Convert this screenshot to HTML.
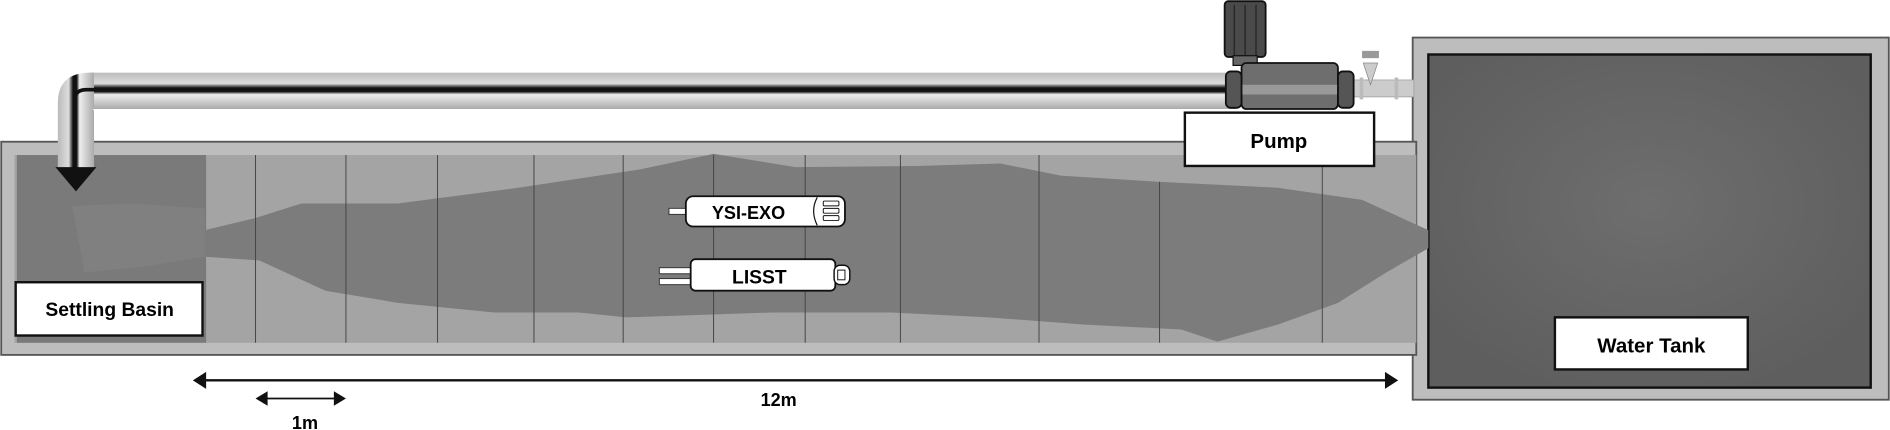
<!DOCTYPE html>
<html><head><meta charset="utf-8"><style>
html,body{margin:0;padding:0;background:#fff;}
svg{display:block;}
text{font-family:"Liberation Sans",sans-serif;font-weight:bold;}
</style></head><body>
<svg width="1890" height="430" viewBox="0 0 1568 355" preserveAspectRatio="none" xmlns="http://www.w3.org/2000/svg">
<defs>
<linearGradient id="pipe" x1="0" y1="0" x2="0" y2="1">
<stop offset="0" stop-color="#bbb"/><stop offset="0.3" stop-color="#ddd"/><stop offset="0.42" stop-color="#111"/><stop offset="0.52" stop-color="#111"/><stop offset="0.6" stop-color="#eee"/><stop offset="1" stop-color="#aaa"/>
</linearGradient>
<linearGradient id="pipev" x1="0" y1="0" x2="1" y2="0">
<stop offset="0" stop-color="#bbb"/><stop offset="0.3" stop-color="#ddd"/><stop offset="0.42" stop-color="#111"/><stop offset="0.52" stop-color="#111"/><stop offset="0.6" stop-color="#eee"/><stop offset="1" stop-color="#aaa"/>
</linearGradient>
<radialGradient id="tank" cx="0.5" cy="0.45" r="0.6"><stop offset="0" stop-color="#6e6e6e"/><stop offset="1" stop-color="#5e5e5e"/></radialGradient>
</defs>
<rect x="1172" y="31" width="395" height="299" fill="#bdbdbd" stroke="#555" stroke-width="1.5"/>
<rect x="1185" y="45" width="367" height="275" fill="url(#tank)" stroke="#111" stroke-width="2"/>
<rect x="1" y="117" width="1174" height="176" fill="#bdbdbd" stroke="#555" stroke-width="1.5"/>
<rect x="12" y="128" width="1163" height="155" fill="#a4a4a4"/>
<rect x="14" y="128" width="157" height="155" fill="#7a7a7a"/>
<path d="M170 190 L212 180 L250 168 L330 168 L430 155 L530 140 L592 127 L660 138 L760 137 L830 135 L880 145 L960 150 L1060 155 L1130 165 L1185 190 L1185 205 L1150 225 L1110 250 L1060 268 L1010 282 L980 272 L900 268 L820 262 L740 258 L640 258 L520 262 L480 258 L410 258 L330 250 L270 240 L215 215 L170 212 Z" fill="#7c7c7c"/>
<path d="M60 170 L110 168 L170 172 L170 212 L120 220 L70 225 Z" fill="#848484" opacity="0.6"/>
<g stroke="#444" stroke-width="0.8">
<line x1="212" y1="128" x2="212" y2="283"/><line x1="287" y1="128" x2="287" y2="283"/><line x1="363" y1="128" x2="363" y2="283"/><line x1="443" y1="128" x2="443" y2="283"/><line x1="517" y1="128" x2="517" y2="283"/><line x1="592" y1="128" x2="592" y2="283"/><line x1="668" y1="128" x2="668" y2="283"/><line x1="747" y1="128" x2="747" y2="283"/><line x1="862" y1="128" x2="862" y2="283"/><line x1="962" y1="150" x2="962" y2="283"/><line x1="1097" y1="128" x2="1097" y2="283"/>
</g>
<rect x="75" y="60" width="950" height="30" fill="url(#pipe)"/>
<path d="M48 140 L48 85 Q48 60 75 60 L78 60 L78 90 L76 90 Q78 90 78 92 L78 140 Z" fill="url(#pipev)"/>
<path d="M62 140 L62 82 Q62 74 72 74 L80 74" fill="none" stroke="#111" stroke-width="3"/>
<polygon points="46,138 80,138 63,158" fill="#111"/>
<rect x="1118" y="66" width="55" height="14" fill="#ccc" stroke="#999" stroke-width="0.6"/>
<rect x="1130" y="42" width="14" height="6" fill="#999"/>
<polygon points="1131,52 1143,52 1137,70" fill="#ccc" stroke="#888" stroke-width="0.6"/>
<rect x="1128" y="64" width="3" height="18" fill="#bbb"/><rect x="1157" y="64" width="3" height="18" fill="#bbb"/>
<rect x="1016" y="1" width="34" height="46" rx="3" fill="#4a4a4a" stroke="#111" stroke-width="1.5"/>
<g stroke="#222" stroke-width="1"><line x1="1024" y1="4" x2="1024" y2="46"/><line x1="1033" y1="4" x2="1033" y2="46"/><line x1="1042" y1="4" x2="1042" y2="46"/></g>
<rect x="1023" y="46" width="20" height="8" fill="#666" stroke="#111"/>
<rect x="1030" y="52" width="80" height="38" rx="4" fill="#6e6e6e" stroke="#111" stroke-width="1.5"/>
<rect x="1030" y="70" width="80" height="8" fill="#999"/>
<rect x="1017" y="59" width="13" height="30" rx="4" fill="#555" stroke="#111" stroke-width="1.5"/>
<rect x="1110" y="59" width="13" height="30" rx="4" fill="#555" stroke="#111" stroke-width="1.5"/>
<rect x="983" y="93" width="157" height="44" fill="#fff" stroke="#111" stroke-width="2"/>
<text x="1061" y="122" font-size="17" text-anchor="middle">Pump</text>
<rect x="13" y="233" width="155" height="44" fill="#fff" stroke="#111" stroke-width="2"/>
<text x="91" y="261" font-size="16" text-anchor="middle">Settling Basin</text>
<rect x="1290" y="262" width="160" height="43" fill="#fff" stroke="#111" stroke-width="2"/>
<text x="1370" y="291" font-size="17" text-anchor="middle">Water Tank</text>
<rect x="555" y="172" width="15" height="5" fill="#fff" stroke="#333" stroke-width="0.8"/>
<rect x="569" y="162" width="132" height="25" rx="6" fill="#fff" stroke="#111" stroke-width="1.5"/>
<path d="M678 163 Q672 174 678 186" fill="none" stroke="#111"/>
<rect x="683" y="166" width="13" height="4" rx="1" fill="#fff" stroke="#111" stroke-width="0.8"/>
<rect x="683" y="172" width="13" height="4" rx="1" fill="#fff" stroke="#111" stroke-width="0.8"/>
<rect x="683" y="178" width="13" height="4" rx="1" fill="#fff" stroke="#111" stroke-width="0.8"/>
<text x="621" y="181" font-size="15" text-anchor="middle">YSI-EXO</text>
<rect x="547" y="221" width="26" height="5" fill="#fff" stroke="#333" stroke-width="0.8"/>
<rect x="547" y="230" width="26" height="5" fill="#fff" stroke="#333" stroke-width="0.8"/>
<rect x="573" y="214" width="120" height="26" rx="4" fill="#fff" stroke="#111" stroke-width="1.5"/>
<rect x="692" y="219" width="13" height="16" rx="5" fill="#fff" stroke="#111" stroke-width="1.2"/>
<rect x="695" y="223" width="6" height="8" fill="#fff" stroke="#111" stroke-width="0.8"/>
<text x="630" y="234" font-size="16" text-anchor="middle">LISST</text>
<line x1="168" y1="314" x2="1152" y2="314" stroke="#111" stroke-width="2"/>
<polygon points="160,314 171,307 171,321" fill="#111"/>
<polygon points="1160,314 1149,307 1149,321" fill="#111"/>
<text x="646" y="335" font-size="15" text-anchor="middle">12m</text>
<line x1="218" y1="329" x2="281" y2="329" stroke="#111" stroke-width="1.5"/>
<polygon points="212,329 222,323 222,335" fill="#111"/>
<polygon points="287,329 277,323 277,335" fill="#111"/>
<text x="253" y="354" font-size="15" text-anchor="middle">1m</text>
</svg>
</body></html>
